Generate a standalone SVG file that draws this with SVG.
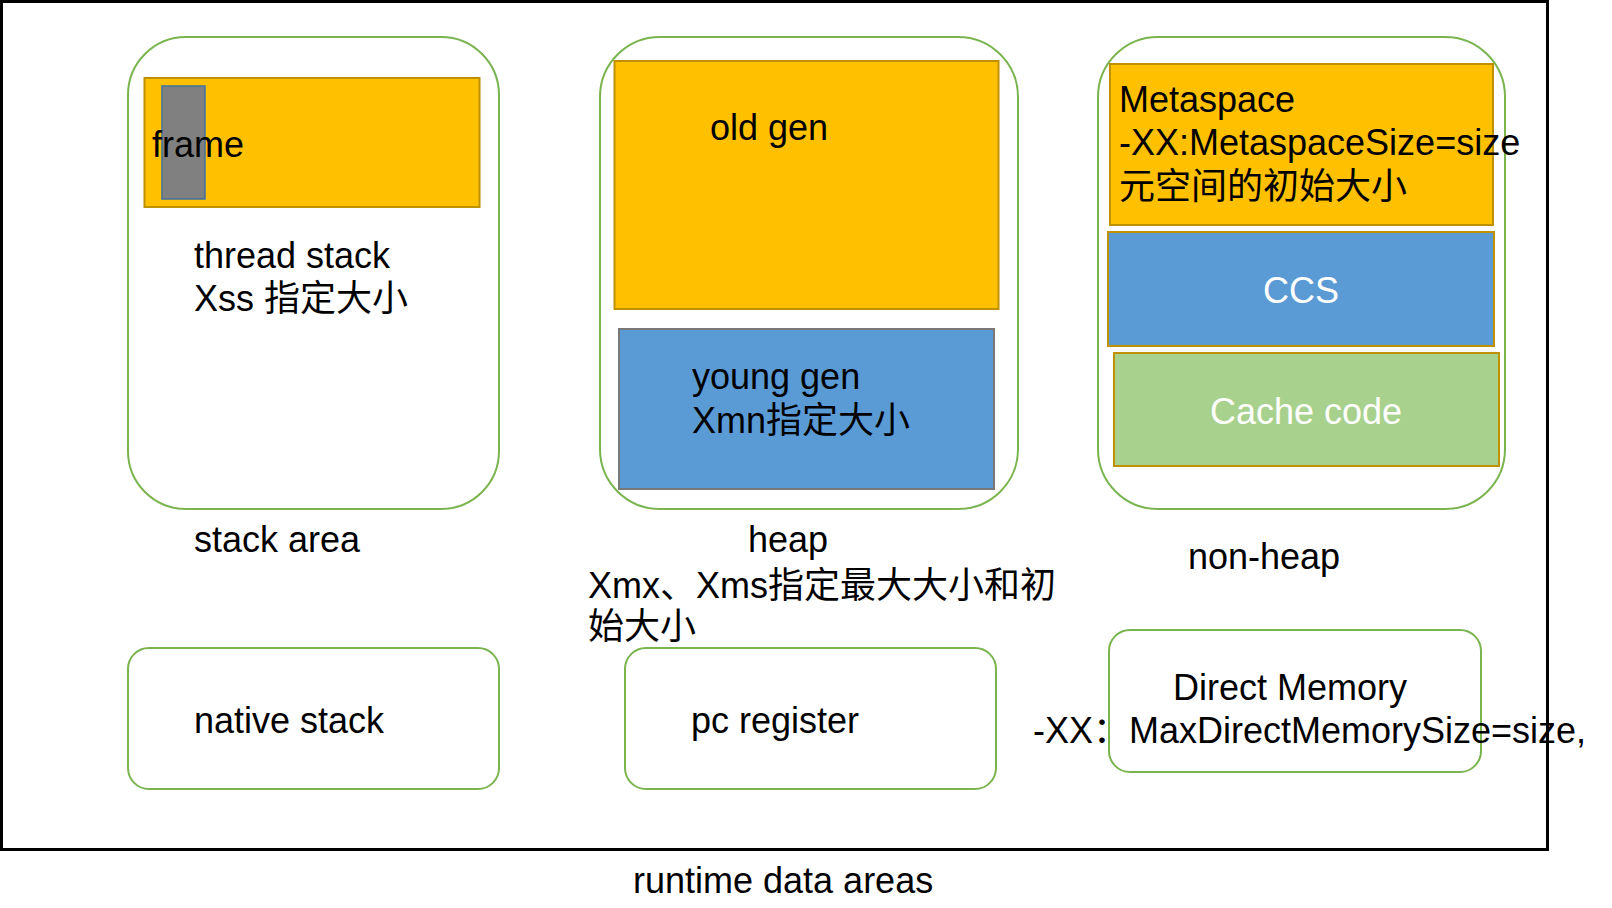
<svg xmlns="http://www.w3.org/2000/svg" width="1612" height="908" viewBox="0 0 1612 908">
<style>
text{font-family:"Liberation Sans","Noto Sans CJK SC",sans-serif;font-size:36px;fill:#000}
.w{fill:#fff}
.area{fill:#fff;stroke:#7AB44F;stroke-width:2}
.orange{fill:#FFC000;stroke:#BF9000;stroke-width:2}
.blue{fill:#5B9BD5;stroke:#BF9000;stroke-width:2}
.green{fill:#A9D18E;stroke:#BF9000;stroke-width:2}
</style>
<rect x="0" y="0" width="1612" height="908" fill="#fff"/>
<g id="runtime-data-areas">
<rect x="1.5" y="1.5" width="1546" height="848" fill="none" stroke="#000" stroke-width="3"/>
<text x="633" y="893">runtime data areas</text>
</g>
<g id="stack-area">
<rect class="area" x="128" y="37" width="371" height="472" rx="58"/>
<rect class="orange" x="144.5" y="78" width="335" height="129"/>
<rect x="162" y="86" width="43" height="113" fill="#808080" stroke="#41719C" stroke-width="1.5"/>
<text x="152" y="157">frame</text>
<text x="194" y="268">thread stack</text>
<text x="194" y="311">Xss 指定大小</text>
<text x="194" y="552">stack area</text>
</g>
<g id="heap">
<rect class="area" x="600" y="37" width="418" height="472" rx="60"/>
<rect class="orange" x="614.5" y="61" width="384" height="248"/>
<text x="710" y="140">old gen</text>
<rect x="619" y="329" width="375" height="160" fill="#5B9BD5" stroke="#787878" stroke-width="2"/>
<text x="692" y="389">young gen</text>
<text x="692" y="433">Xmn指定大小</text>
<text x="748" y="552">heap</text>
<text x="588" y="598">Xmx、Xms指定最大大小和初</text>
<text x="588" y="639">始大小</text>
</g>
<g id="non-heap">
<rect class="area" x="1098" y="37" width="407" height="472" rx="60"/>
<rect class="orange" x="1110" y="64" width="383" height="161"/>
<text x="1119" y="112">Metaspace</text>
<text x="1119" y="155">-XX:MetaspaceSize=size</text>
<text x="1119" y="199">元空间的初始大小</text>
<rect class="blue" x="1108" y="232" width="386" height="114"/>
<text class="w" x="1301" y="303" text-anchor="middle">CCS</text>
<rect class="green" x="1114" y="353" width="385" height="113"/>
<text class="w" x="1306" y="424" text-anchor="middle">Cache code</text>
<text x="1188" y="569">non-heap</text>
</g>
<g id="native-stack">
<rect class="area" x="128" y="648" width="371" height="141" rx="21"/>
<text x="194" y="733">native stack</text>
</g>
<g id="pc-register">
<rect class="area" x="625" y="648" width="371" height="141" rx="21"/>
<text x="691" y="733">pc register</text>
</g>
<g id="direct-memory">
<rect class="area" x="1109" y="630" width="372" height="142" rx="21"/>
<text x="1173" y="700">Direct Memory</text>
<text x="1033" y="743">-XX：MaxDirectMemorySize=size,</text>
</g>
<g id="connectors"/>
</svg>
